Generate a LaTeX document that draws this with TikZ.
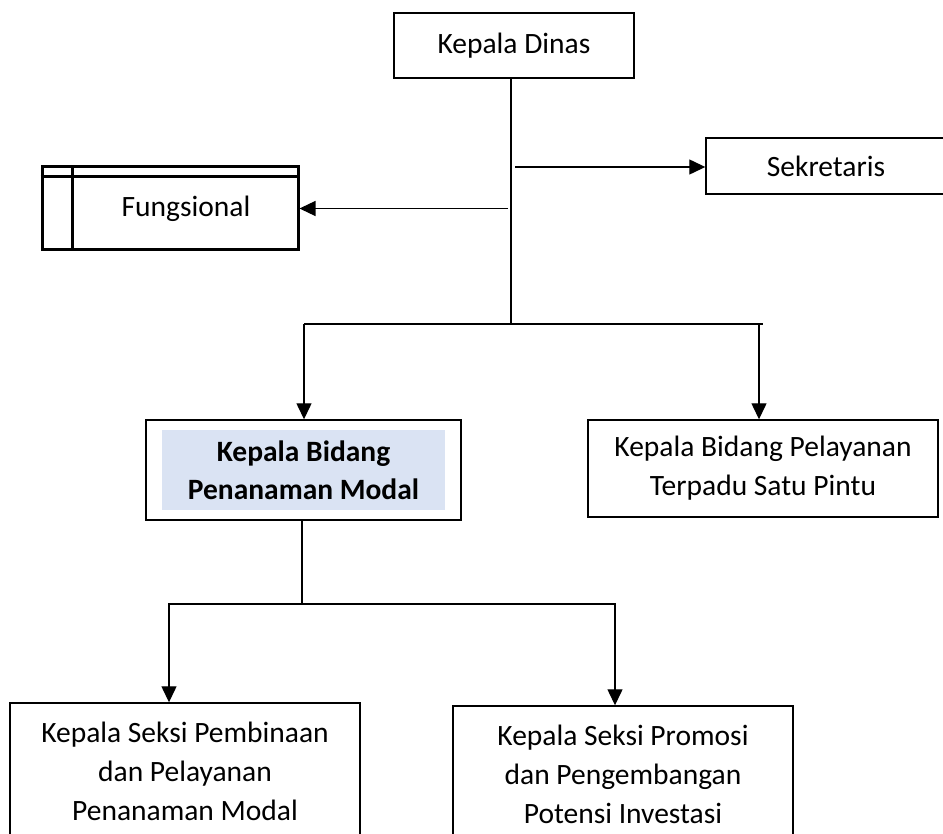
\documentclass[tikz,border=0pt]{standalone}
\usepackage{fontspec}
\setmainfont{Carlito}
\usetikzlibrary{arrows.meta}
\definecolor{fillblue}{HTML}{DAE3F3}
\begin{document}
\begin{tikzpicture}[x=1pt,y=-1pt,
  font=\fontsize{29.5}{39}\selectfont,
  box/.style={draw, line width=1.4pt, align=center, inner sep=0pt},
  conn/.style={line width=1.3pt},
  arr/.style={conn, -{Triangle[length=16pt,width=15pt]}}]
\useasboundingbox (0,0) rectangle (943,834);
\clip (0,0) rectangle (943,834);

% boxes
\node[box, minimum width=240pt, minimum height=65pt] (kd) at (514,45.5) {Kepala Dinas};
\node[box, minimum width=240pt, minimum height=56pt] (sek) at (826,166) {Sekretaris};
\node[draw, line width=3pt, minimum width=256pt, minimum height=83pt, inner sep=0pt] (fung) at (170,208.5) {};
\node[inner sep=0pt] (fungt) at (186,208.5) {Fungsional};
\draw[line width=3pt] ([yshift=-11pt]fung.north west) -- ([yshift=-11pt]fung.north east);
\draw[line width=3pt] ([xshift=32pt]fung.north west) -- ([xshift=32pt]fung.south west);

\node[box, minimum width=315pt, minimum height=100pt] (bpm) at (303.5,470) {};
\node[fill=fillblue, minimum width=283pt, minimum height=80pt, inner sep=0pt, align=center,
      font=\fontsize{29.5}{38}\selectfont\bfseries] (bpmt) at (bpm.center) {Kepala Bidang\\Penanaman Modal};
\node[box, minimum width=350pt, minimum height=97pt] (bpl) at (763,468.5) {Kepala Bidang Pelayanan\\Terpadu Satu Pintu};

\node[box, minimum width=350pt, minimum height=136pt] (ska) at (185,771) {Kepala Seksi Pembinaan\\dan Pelayanan\\Penanaman Modal};
\node[box, minimum width=340pt, minimum height=136pt] (skb) at (623,774) {Kepala Seksi Promosi\\dan Pengembangan\\Potensi Investasi};

% connectors
\coordinate (j1) at (511,324);
\draw[conn] (kd.south -| j1) -- (j1);
\coordinate (s0) at (515,167);
\draw[arr] (s0) -- (s0 -| sek.west);
\coordinate (f0) at (508,208.5);
\draw[arr] (f0) -- (f0 -| fung.east);

\coordinate (hl) at (304,324);
\coordinate (hr) at (759,324);
\draw[conn] (hl) -- ([xshift=4pt]hr);
\draw[arr] (hl) -- (hl |- bpm.north);
\draw[arr] (hr) -- (hr |- bpl.north);

\coordinate (b0) at (302,604);
\coordinate (bl) at (168,604);
\coordinate (br) at (616,604);
\draw[conn] (bpm.south -| b0) -- (b0);
\draw[conn] (bl) -- (br);
\draw[arr] ([xshift=1pt]bl) -- ([xshift=1pt]bl |- ska.north);
\draw[arr] ([xshift=-1pt]br) -- ([xshift=-1pt]br |- skb.north);
\end{tikzpicture}
\end{document}
